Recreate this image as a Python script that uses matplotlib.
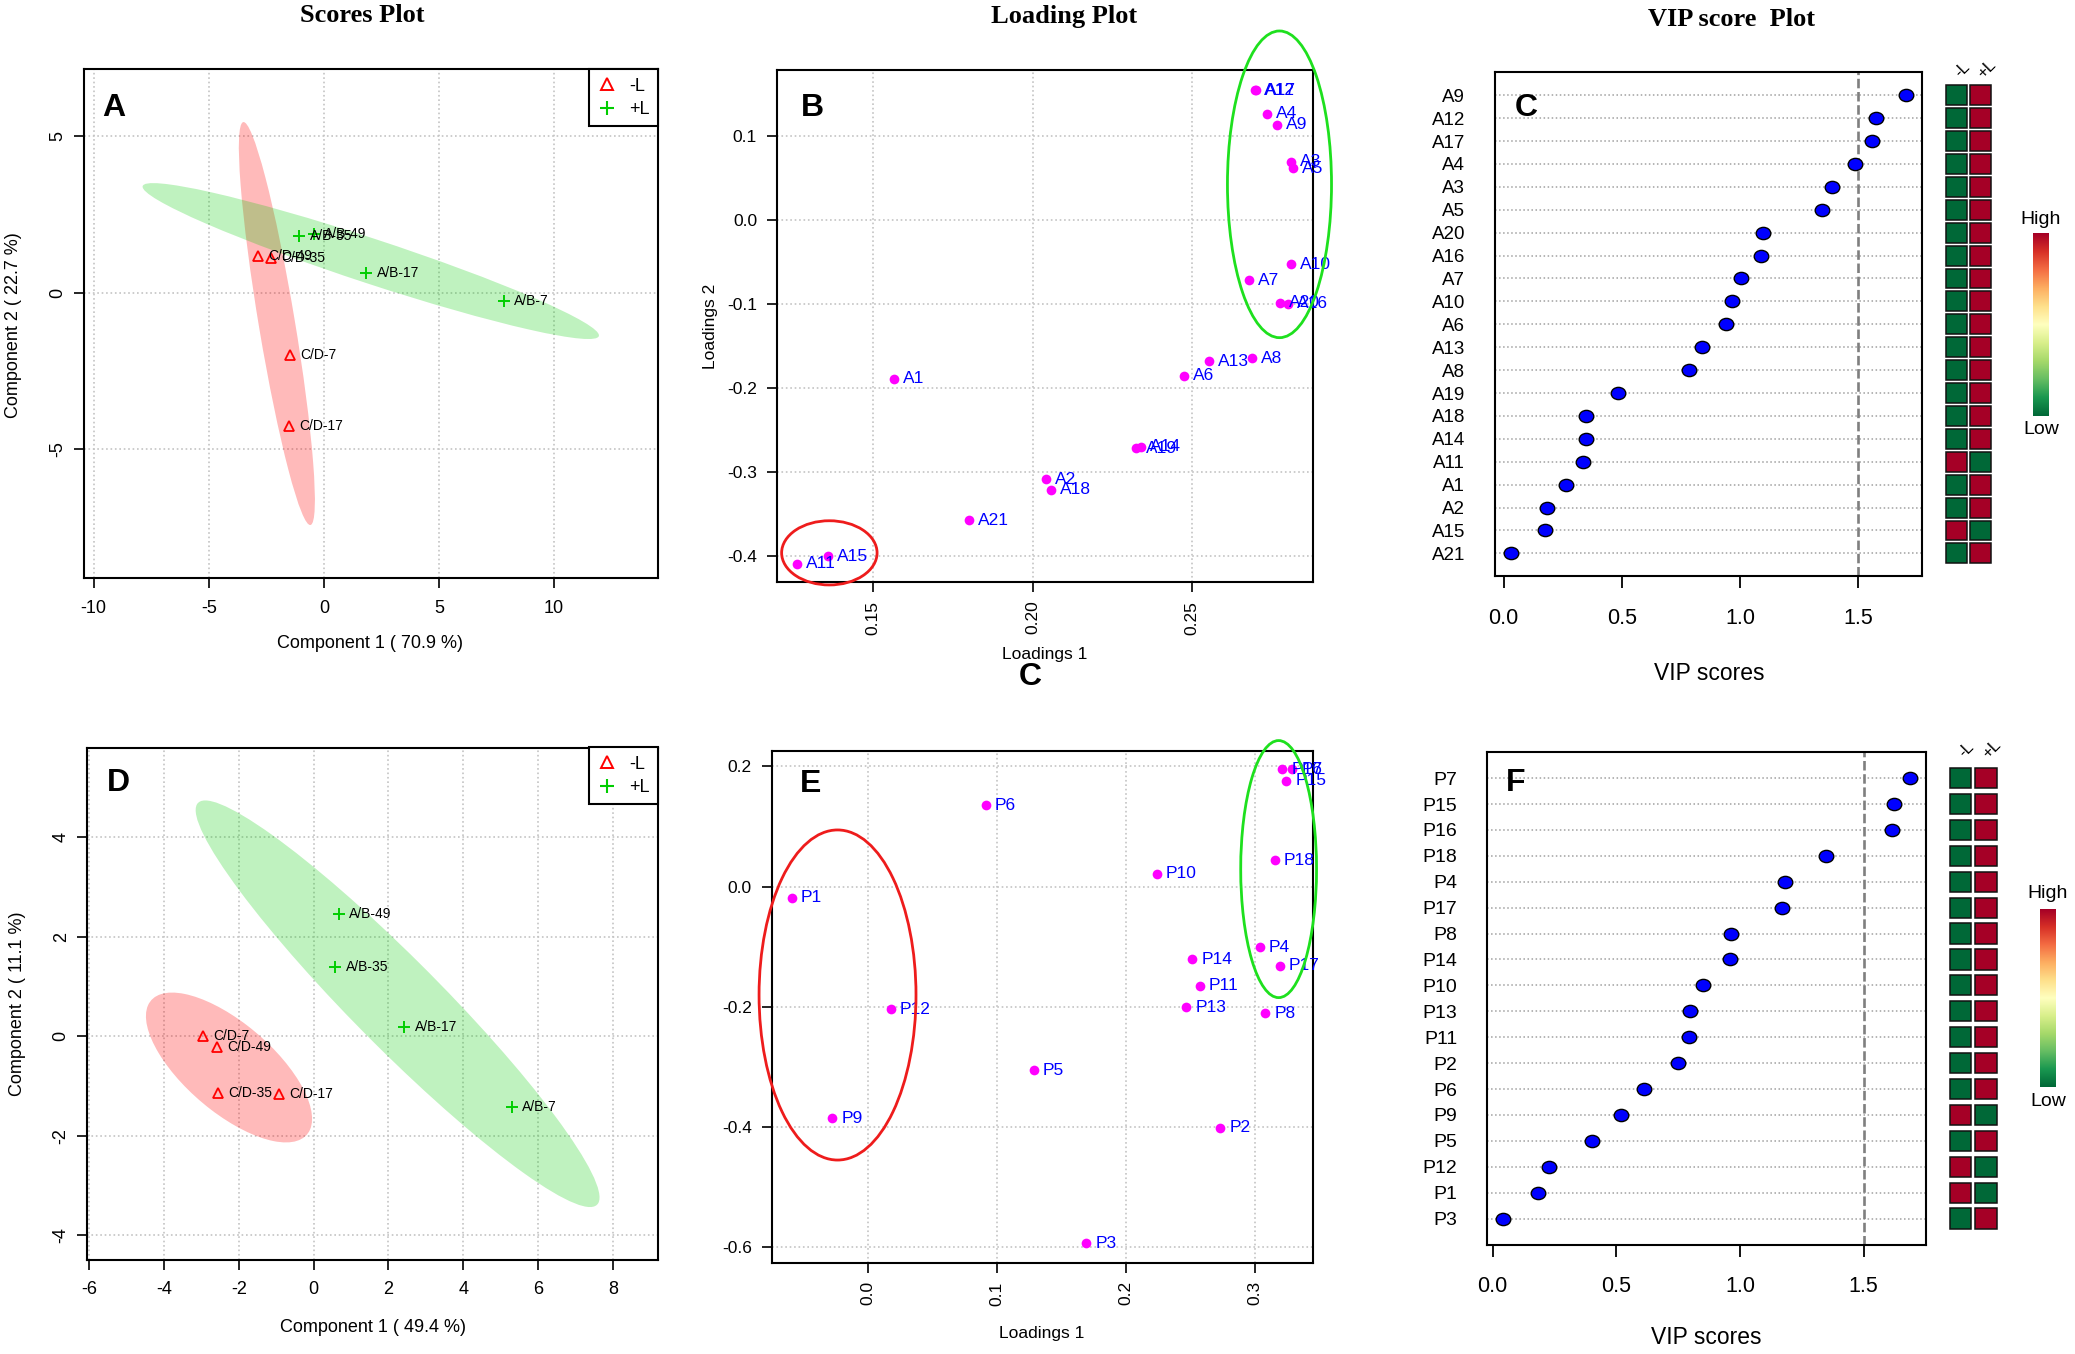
import numpy as np
import matplotlib
matplotlib.use("Agg")
import matplotlib.pyplot as plt
from matplotlib.patches import Ellipse, Rectangle
from matplotlib.path import Path
from matplotlib.lines import Line2D

plt.rcParams['font.family'] = ['Liberation Sans', 'DejaVu Sans']
plt.rcParams['axes.unicode_minus'] = False

# ------------------------------------------------------------------ data
# Panel A: PLS-DA scores (group A)
scoresA_labels = ["C/D-7", "C/D-17", "C/D-35", "C/D-49", "A/B-7", "A/B-17", "A/B-35", "A/B-49"]
scoresA_groups = ["-L", "-L", "-L", "-L", "+L", "+L", "+L", "+L"]
scoresA_comp1 = [-1.47, -1.51, -2.31, -2.87, 7.82, 1.84, -1.07, -0.43]
scoresA_comp2 = [-1.98, -4.25, 1.11, 1.18, -0.25, 0.62, 1.80, 1.87]

# Panel D: PLS-DA scores (group P)
scoresD_labels = ["C/D-7", "C/D-17", "C/D-35", "C/D-49", "A/B-7", "A/B-17", "A/B-35", "A/B-49"]
scoresD_groups = ["-L", "-L", "-L", "-L", "+L", "+L", "+L", "+L"]
scoresD_comp1 = [-2.97, -0.93, -2.57, -2.58, 5.30, 2.43, 0.585, 0.67]
scoresD_comp2 = [0.01, -1.17, -1.14, -0.21, -1.43, 0.19, 1.40, 2.46]

# Panel B: loadings
loadB_names = ["A1", "A2", "A3", "A4", "A5", "A6", "A7", "A8", "A9", "A10", "A11",
               "A12", "A13", "A14", "A15", "A16", "A17", "A18", "A19", "A20", "A21"]
loadB_l1 = [0.1564, 0.2043, 0.2810, 0.2734, 0.2815, 0.2475, 0.2676, 0.2687, 0.2764, 0.2808, 0.1261,
            0.2695, 0.2553, 0.2339, 0.1359, 0.2801, 0.2698, 0.2057, 0.2325, 0.2776, 0.1799]
loadB_l2 = [-0.1889, -0.3086, 0.0690, 0.1264, 0.0614, -0.1858, -0.0717, -0.1646, 0.1130, -0.0531, -0.4092,
            0.1540, -0.1682, -0.2699, -0.4004, -0.0996, 0.1545, -0.3215, -0.2719, -0.0986, -0.3576]

# Panel E: loadings
loadE_names = ["P1", "P2", "P3", "P4", "P5", "P6", "P7", "P8", "P9", "P10",
               "P11", "P12", "P13", "P14", "P15", "P16", "P17", "P18"]
loadE_l1 = [-0.0592, 0.2733, 0.1694, 0.3041, 0.1285, 0.0911, 0.3294, 0.3083, -0.0281, 0.2241,
            0.2574, 0.0173, 0.2470, 0.2515, 0.3246, 0.3214, 0.3197, 0.3156]
loadE_l2 = [-0.0186, -0.4010, -0.5926, -0.1008, -0.3052, 0.1351, 0.1951, -0.2101, -0.3853, 0.0214,
            -0.1644, -0.2037, -0.2001, -0.1208, 0.1766, 0.1951, -0.1315, 0.0436]

# Panel C: VIP scores (top to bottom) and relative level in -L / +L (0 = low, 1 = high)
vipC_names = ["A9", "A12", "A17", "A4", "A3", "A5", "A20", "A16", "A7", "A10", "A6",
              "A13", "A8", "A19", "A18", "A14", "A11", "A1", "A2", "A15", "A21"]
vipC_scores = [1.702, 1.575, 1.558, 1.487, 1.389, 1.345, 1.098, 1.087, 1.005, 0.964, 0.940,
               0.838, 0.782, 0.485, 0.347, 0.347, 0.336, 0.264, 0.184, 0.176, 0.033]
vipC_minusL = [0, 0, 0, 0, 0, 0, 0, 0, 0, 0, 0, 0, 0, 0, 0, 0, 1, 0, 0, 1, 0]
vipC_plusL = [1, 1, 1, 1, 1, 1, 1, 1, 1, 1, 1, 1, 1, 1, 1, 1, 0, 1, 1, 0, 1]

# Panel F: VIP scores
vipF_names = ["P7", "P15", "P16", "P18", "P4", "P17", "P8", "P14", "P10",
              "P13", "P11", "P2", "P6", "P9", "P5", "P12", "P1", "P3"]
vipF_scores = [1.686, 1.625, 1.615, 1.350, 1.183, 1.169, 0.965, 0.960, 0.852,
               0.798, 0.794, 0.749, 0.611, 0.519, 0.402, 0.230, 0.183, 0.044]
vipF_minusL = [0, 0, 0, 0, 0, 0, 0, 0, 0, 0, 0, 0, 0, 1, 0, 1, 1, 0]
vipF_plusL = [1, 1, 1, 1, 1, 1, 1, 1, 1, 1, 1, 1, 1, 0, 1, 0, 0, 1]

heat_columns = ["-L", "+L"]
vip_cutoff = 1.5

# ------------------------------------------------------------------ figure
W, H = 2075, 1354
fig = plt.figure(figsize=(W / 100, H / 100), dpi=100)

RED = '#ff0000'
GREEN = '#00cd00'
SERIF = ['Liberation Serif', 'DejaVu Serif']


def add_ax(l, t, r, b):
    return fig.add_axes([l / W, 1 - b / H, (r - l) / W, (b - t) / H])


def ftext(x, y, s, **kw):
    return fig.text(x / W, 1 - y / H, s, **kw)


def style_box(ax):
    for s in ax.spines.values():
        s.set_linewidth(1.5)
        s.set_color('black')


def place_labels(ax, xlab, xpos, ylab=None, ypos=None, fs=13):
    ax.set_xlabel(xlab, fontsize=fs, va='center')
    ax.xaxis.set_label_coords(xpos[0] / W, 1 - xpos[1] / H, transform=fig.transFigure)
    if ylab is not None:
        ax.set_ylabel(ylab, fontsize=fs, va='center')
        ax.yaxis.set_label_coords(ypos[0] / W, 1 - ypos[1] / H, transform=fig.transFigure)


def conf_ellipse(ax, x, y, color, alpha):
    x = np.asarray(x, float)
    y = np.asarray(y, float)
    cov = np.cov(x, y)
    vals, vecs = np.linalg.eigh(cov)
    order = vals.argsort()[::-1]
    vals, vecs = vals[order], vecs[:, order]
    angle = np.degrees(np.arctan2(vecs[1, 0], vecs[0, 0]))
    k = np.sqrt(5.991464547)  # 95% chi-square, 2 df
    ax.add_patch(Ellipse((x.mean(), y.mean()), 2 * k * np.sqrt(vals[0]), 2 * k * np.sqrt(vals[1]),
                         angle=angle, facecolor=color, alpha=alpha, edgecolor='none', zorder=1))


def scores_panel(box, c1, c2, groups, labels, xlim, ylim, xticks, yticks):
    ax = add_ax(*box)
    style_box(ax)
    ax.set_xlim(xlim)
    ax.set_ylim(ylim)
    ax.set_xticks(xticks)
    ax.set_xticklabels([str(v) for v in xticks])
    ax.set_yticks(yticks)
    ax.set_yticklabels([str(v) for v in yticks], rotation=90, va='center')
    ax.tick_params(axis='both', direction='out', length=7, width=1.2, labelsize=13)
    ax.tick_params(axis='x', pad=8.5)
    ax.tick_params(axis='y', pad=5.5)
    ax.grid(True, ls=':', color='#c4c4c4', lw=1.2)
    ax.set_axisbelow(True)
    c1 = np.asarray(c1)
    c2 = np.asarray(c2)
    g = np.asarray(groups)
    for grp, col, alpha in [('-L', RED, 0.27), ('+L', GREEN, 0.25)]:
        m = g == grp
        conf_ellipse(ax, c1[m], c2[m], col, alpha)
    m = g == '-L'
    ax.plot(c1[m], c2[m], ls='none', marker='^', ms=7.5, mfc='none', mec=RED, mew=1.3, zorder=3)
    m = g == '+L'
    ax.plot(c1[m], c2[m], ls='none', marker='+', ms=9, mec=GREEN, mew=1.4, zorder=3)
    for x, y, t in zip(c1, c2, labels):
        ax.annotate(t, (x, y), xytext=(7.5, 0), textcoords='offset points',
                    ha='left', va='center', fontsize=10, zorder=4)
    handles = [Line2D([], [], ls='none', marker='^', ms=8, mfc='none', mec=RED, mew=1.4),
               Line2D([], [], ls='none', marker='+', ms=10, mec=GREEN, mew=1.5)]
    leg = ax.legend(handles, ['-L', '+L'], loc='upper right', borderaxespad=0, fancybox=False,
                    edgecolor='black', framealpha=1, fontsize=13, handlelength=1.1,
                    handletextpad=0.7, borderpad=0.45, labelspacing=0.35)
    leg.get_frame().set_linewidth(1.5)
    return ax


def loading_panel(box, names, l1, l2, xlim, ylim, xticks, xfmt, yticks, yfmt):
    ax = add_ax(*box)
    style_box(ax)
    ax.set_xlim(xlim)
    ax.set_ylim(ylim)
    ax.set_xticks(xticks)
    ax.set_xticklabels([xfmt.format(v + 0.0) for v in xticks], rotation=90)
    ax.set_yticks(yticks)
    ax.set_yticklabels([yfmt.format(round(v, 3) + 0.0) for v in yticks])
    ax.tick_params(axis='both', direction='out', length=7, width=1.2, labelsize=12.5)
    ax.tick_params(axis='x', pad=6.5)
    ax.tick_params(axis='y', pad=7.4)
    ax.grid(True, ls=':', color='#c4c4c4', lw=1.2)
    ax.set_axisbelow(True)
    ax.plot(l1, l2, ls='none', marker='o', ms=7, mfc='#ff00ff', mec='none', zorder=3)
    for x, y, t in zip(l1, l2, names):
        ax.annotate(t, (x, y), xytext=(6.5, 0), textcoords='offset points',
                    ha='left', va='center', fontsize=12.5, color='#0000ff', zorder=4)
    return ax


# ellipse-shaped marker for the VIP dots
_circ = Path.unit_circle()
vip_marker = Path(_circ.vertices * np.array([1.0, 0.84]), _circ.codes)
cmap = plt.get_cmap('RdYlGn_r')


def vip_panel(box, names, scores, hminus, hplus, xlim, heat_box, cbar_box, hi_pos, lo_pos,
              label_fs, cell_gap_y):
    ax = add_ax(*box)
    style_box(ax)
    n = len(names)
    yrow = np.arange(n, 0, -1)
    ax.set_ylim(0, n + 1)
    ax.set_xlim(xlim)
    ax.set_yticks(yrow)
    ax.set_yticklabels(names)
    ax.tick_params(axis='y', length=0, pad=21.5, labelsize=label_fs)
    ax.set_xticks([0.0, 0.5, 1.0, 1.5])
    ax.set_xticklabels(['0.0', '0.5', '1.0', '1.5'])
    ax.tick_params(axis='x', direction='out', length=8.5, width=1.3, labelsize=15.5, pad=14)
    ax.yaxis.grid(True, ls=':', color='#a0a0a0', lw=1.1)
    ax.set_axisbelow(True)
    ax.axvline(vip_cutoff, color='#7f7f7f', lw=1.9, ls=(0, (3.6, 1.4)), zorder=2)
    ax.plot(scores, yrow, ls='none', marker=vip_marker, ms=10.5, mfc='#0000ff', mec='black',
            mew=1.0, zorder=3)

    hax = add_ax(heat_box[0], box[1], heat_box[1], box[3])
    hax.set_xlim(0, 2)
    hax.set_ylim(0, n + 1)
    hax.axis('off')
    gx = heat_box[2]
    for c, vals in enumerate([hminus, hplus]):
        for yy, v in zip(yrow, vals):
            hax.add_patch(Rectangle((c + gx / 2, yy - 0.5 + cell_gap_y), 1 - gx, 1 - 2 * cell_gap_y,
                                    facecolor=cmap(float(v)), edgecolor='#111111', lw=1.1))
        hax.annotate(heat_columns[c], (c + 0.5, 1), xycoords=('data', 'axes fraction'),
                     xytext=(4, 2), textcoords='offset points', rotation=45,
                     ha='center', va='center', fontsize=12, annotation_clip=False)

    cax = add_ax(*cbar_box)
    cax.imshow(np.linspace(0, 1, 256)[:, None], aspect='auto', cmap=cmap, origin='lower')
    cax.axis('off')
    ftext(hi_pos[0], hi_pos[1], 'High', ha='center', va='center', fontsize=14)
    ftext(lo_pos[0], lo_pos[1], 'Low', ha='center', va='center', fontsize=14)
    return ax


# ---------------- Panel A
axA = scores_panel((84, 69.4, 658, 578), scoresA_comp1, scoresA_comp2, scoresA_groups, scoresA_labels,
                   (-10.42, 14.52), (-9.11, 7.13), [-10, -5, 0, 5, 10], [-5, 0, 5])
place_labels(axA, 'Component 1 ( 70.9 %)', (370, 644), 'Component 2 ( 22.7 %)', (14, 325))

# ---------------- Panel D
axD = scores_panel((87, 747.5, 658, 1259.5), scoresD_comp1, scoresD_comp2, scoresD_groups, scoresD_labels,
                   (-6.06, 9.21), (-4.49, 5.81), [-6, -4, -2, 0, 2, 4, 6, 8], [-4, -2, 0, 2, 4])
place_labels(axD, 'Component 1 ( 49.4 %)', (373, 1327), 'Component 2 ( 11.1 %)', (18, 1004))

# ---------------- Panel B
axB = loading_panel((777, 70.3, 1313, 582), loadB_names, loadB_l1, loadB_l2,
                    (0.1199, 0.2878), (-0.431, 0.178), [0.15, 0.20, 0.25], '{:.2f}',
                    [-0.4, -0.3, -0.2, -0.1, 0.0, 0.1], '{:.1f}')
place_labels(axB, 'Loadings 1', (1045, 654), 'Loadings 2', (710, 326), fs=12.5)
axB.add_patch(Ellipse((0.2773, 0.0423), 0.0326, 0.365, fill=False, edgecolor='#1ee01e', lw=2.0,
                      clip_on=False, zorder=5))
axB.add_patch(Ellipse((0.1363, -0.3963), 0.0299, 0.0764, fill=False, edgecolor='#ee1c1c', lw=2.0,
                      clip_on=False, zorder=5))

# ---------------- Panel E
axE = loading_panel((772, 751, 1313, 1262.5), loadE_names, loadE_l1, loadE_l2,
                    (-0.0748, 0.3454), (-0.625, 0.2257), [0.0, 0.1, 0.2, 0.3], '{:.1f}',
                    [-0.6, -0.4, -0.2, 0.0, 0.2], '{:.1f}')
place_labels(axE, 'Loadings 1', (1042, 1333.5), fs=12.5)
axE.add_patch(Ellipse((0.3187, 0.0293), 0.0589, 0.4275, fill=False, edgecolor='#1ee01e', lw=2.0,
                      clip_on=False, zorder=5))
axE.add_patch(Ellipse((-0.0239, -0.1801), 0.1219, 0.549, fill=False, edgecolor='#ee1c1c', lw=2.0,
                      clip_on=False, zorder=5))

# ---------------- Panel C
axC = vip_panel((1495, 72.3, 1922, 576.3), vipC_names, vipC_scores, vipC_minusL, vipC_plusL,
                (-0.0364, 1.769), (1944, 1993, 0.16), (2033, 233, 2049, 416),
                (2041, 219), (2041, 430), 13.5, 0.065)
place_labels(axC, 'VIP scores', (1709, 673), fs=16.5)

# ---------------- Panel F
axF = vip_panel((1487, 752.2, 1926, 1244.5), vipF_names, vipF_scores, vipF_minusL, vipF_plusL,
                (-0.0226, 1.7526), (1948, 1998.4, 0.14), (2040, 909, 2056, 1087),
                (2048, 894), (2048, 1101), 14, 0.11)
place_labels(axF, 'VIP scores', (1706, 1338), fs=16.5)

# ---------------- titles and panel letters
ftext(362, 15, 'Scores Plot', ha='center', va='center', fontsize=19, fontweight='bold', family=SERIF)
ftext(1064, 16, 'Loading Plot', ha='center', va='center', fontsize=19, fontweight='bold', family=SERIF)
ftext(1731, 20, 'VIP score  Plot', ha='center', va='center', fontsize=19, fontweight='bold', family=SERIF)

for letter, (px, py) in {'A': (114, 108), 'B': (812, 108), 'C': (1526, 108.5),
                         'D': (118, 783), 'E': (811, 784.5), 'F': (1516, 783)}.items():
    ftext(px, py, letter, ha='center', va='center', fontsize=23, fontweight='bold')
ftext(1030, 677, 'C', ha='center', va='center', fontsize=23, fontweight='bold')

fig.savefig('out.png', dpi=100)
